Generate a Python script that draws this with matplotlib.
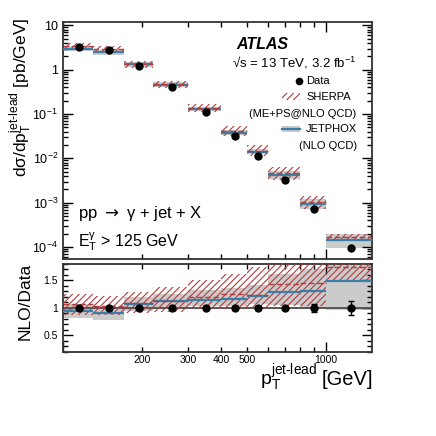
import numpy as np
import matplotlib
matplotlib.use("Agg")
import matplotlib.pyplot as plt
from matplotlib.ticker import LogLocator, FuncFormatter, MultipleLocator, FixedLocator
from matplotlib.patches import Rectangle
from matplotlib.lines import Line2D

plt.rcParams['font.family'] = ['Liberation Sans', 'DejaVu Sans']
plt.rcParams['mathtext.fontset'] = 'custom'
plt.rcParams['mathtext.rm'] = 'Liberation Sans'
plt.rcParams['mathtext.it'] = 'Liberation Sans:italic'
plt.rcParams['mathtext.bf'] = 'Liberation Sans:bold'
plt.rcParams['hatch.linewidth'] = 0.8

# ---------------- data ----------------
bin_edges = [100, 130, 170, 220, 300, 400, 500, 600, 800, 1000, 1500]
x_points = [115, 150, 195, 260, 350, 450, 550, 700, 900, 1250]
data_xsec = [3.18, 2.78, 1.23, 0.412, 0.112, 0.0327, 0.0116, 0.00321, 7.1e-4, 9.8e-5]
data_rel_err = [0.03, 0.03, 0.03, 0.03, 0.03, 0.03, 0.03, 0.04, 0.07, 0.12]

# NLO / Data ratios
jetphox_ratio = [0.94, 0.90, 1.08, 1.12, 1.15, 1.17, 1.22, 1.29, 1.31, 1.485]
jetphox_low = [0.81, 0.79, 0.95, 0.99, 1.03, 1.04, 1.07, 1.05, 1.00, 0.96]
jetphox_high = [1.07, 1.02, 1.20, 1.26, 1.32, 1.36, 1.42, 1.62, 1.70, 2.00]

sherpa_ratio = [1.07, 1.04, 1.09, 1.13, 1.20, 1.26, 1.24, 1.44, 1.45, 1.75]
sherpa_low = [0.88, 0.87, 0.91, 0.93, 0.98, 0.99, 1.00, 1.04, 1.04, 1.50]
sherpa_high = [1.25, 1.22, 1.29, 1.38, 1.50, 1.62, 1.75, 1.95, 1.95, 2.05]

RED = '#b53c3c'
BLUE = '#3a7fa8'
GREY = '#cbcbcb'
HATCH = '/////'

edges = np.array(bin_edges, dtype=float)
data = np.array(data_xsec)


def ext(v):
    v = np.asarray(v, dtype=float)
    return np.append(v, v[-1])


fig = plt.figure(figsize=(4.36, 4.36), dpi=100)
ax1 = fig.add_axes([0.1445, 0.406, 0.709, 0.544])
ax2 = fig.add_axes([0.1445, 0.1927, 0.709, 0.2018])

# ---------------- top panel ----------------
jp = data * np.array(jetphox_ratio)
jp_lo = data * np.array(jetphox_low)
jp_hi = data * np.array(jetphox_high)
sh = data * np.array(sherpa_ratio)
sh_lo = data * np.array(sherpa_low)
sh_hi = data * np.array(sherpa_high)

ax1.fill_between(edges, ext(jp_lo), ext(jp_hi), step='post', facecolor=GREY, edgecolor='none', lw=0, zorder=1)
ax1.fill_between(edges, ext(sh_lo), ext(sh_hi), step='post', facecolor='none', edgecolor=RED, lw=0, hatch=HATCH, zorder=2)
ax1.hlines(jp, edges[:-1], edges[1:], color=BLUE, lw=1.6, zorder=3)
ax1.hlines(sh, edges[:-1], edges[1:], color=RED, lw=1.0, linestyles=(0, (4, 2)), zorder=3)
ax1.errorbar(x_points, data, yerr=data * np.array(data_rel_err), fmt='o', color='black', ms=5, lw=1, zorder=5)

ax1.set_xscale('log')
ax1.set_yscale('log')
ax1.set_xlim(100, 1500)
ax1.set_ylim(5.4e-5, 12)


def yfmt(v, p):
    e = int(round(np.log10(v)))
    if e == 0:
        return '1'
    if e == 1:
        return '10'
    return r'$10^{%d}$' % e


ax1.yaxis.set_major_locator(LogLocator(base=10, numticks=12))
ax1.yaxis.set_minor_locator(LogLocator(base=10, subs=np.arange(2, 10), numticks=12))
ax1.yaxis.set_major_formatter(FuncFormatter(yfmt))
ax1.xaxis.set_major_locator(LogLocator(base=10, numticks=10))
ax1.xaxis.set_minor_locator(LogLocator(base=10, subs=np.arange(2, 10), numticks=20))
ax1.xaxis.set_major_formatter(FuncFormatter(lambda v, p: ''))
ax1.xaxis.set_minor_formatter(FuncFormatter(lambda v, p: ''))

# ---------------- ratio panel ----------------
ones = data / data
ax2.fill_between(edges, ext(jetphox_low), ext(jetphox_high), step='post', facecolor=GREY, edgecolor='none', lw=0, zorder=1)
ax2.axhline(1.0, color='#555555', lw=1.4, zorder=2)
ax2.fill_between(edges, ext(sherpa_low), ext(sherpa_high), step='post', facecolor='none', edgecolor=RED, lw=0, hatch=HATCH, zorder=3)
ax2.hlines(jetphox_ratio, edges[:-1], edges[1:], color=BLUE, lw=1.6, zorder=4)
ax2.hlines(sherpa_ratio, edges[:-1], edges[1:], color=RED, lw=1.0, linestyles=(0, (4, 2)), zorder=4)
ax2.errorbar(x_points, ones, yerr=data_rel_err, fmt='o', color='black', ms=5, lw=1, capsize=2, zorder=5)

ax2.set_xscale('log')
ax2.set_xlim(100, 1500)
ax2.set_ylim(0.2, 1.8)
ax2.yaxis.set_major_locator(FixedLocator([0.5, 1.0, 1.5]))
ax2.yaxis.set_minor_locator(MultipleLocator(0.1))
ax2.yaxis.set_major_formatter(FuncFormatter(lambda v, p: f'{v:g}'))
ax2.xaxis.set_major_locator(LogLocator(base=10, numticks=10))
ax2.xaxis.set_minor_locator(LogLocator(base=10, subs=np.arange(2, 10), numticks=20))
ax2.xaxis.set_major_formatter(FuncFormatter(lambda v, p: '1000' if abs(v - 1000) < 1 else ''))
ax2.xaxis.set_minor_formatter(FuncFormatter(lambda v, p: f'{v:g}' if int(round(v)) in (200, 300, 400, 500) else ''))

for ax in (ax1, ax2):
    ax.tick_params(which='both', direction='in', top=True, right=True, width=1.0, labelsize=9, colors='black')
    ax.tick_params(which='major', length=7)
    ax.tick_params(which='minor', length=3.5)
    for s in ax.spines.values():
        s.set_linewidth(1.3)
        s.set_color('#333333')
ax2.tick_params(axis='x', which='both', pad=2.5, labelsize=7.5)
ax2.tick_params(axis='y', labelsize=7.5)

# ---------------- labels ----------------
fig.text(0.048, 0.96, r'dσ/dp$_\mathrm{T}^\mathrm{jet\text{-}lead}$ [pb/GeV]', rotation=90,
         ha='center', va='top', fontsize=12.5)
fig.text(0.057, 0.397, 'NLO/Data', rotation=90, ha='center', va='top', fontsize=12.5)

# x label, in two pieces so the unit sits beside the superscript
xl_unit = fig.text(0.856, 0.117, '[GeV]', ha='right', va='baseline', fontsize=14.5)
renderer = fig.canvas.get_renderer()
bb = xl_unit.get_window_extent(renderer=renderer)
x_unit_left = bb.x0 / fig.bbox.width
fig.text(x_unit_left - 0.010, 0.117, r'p$_\mathrm{T}^\mathrm{jet\text{-}lead}$', ha='right', va='baseline',
         fontsize=14)

fig.text(0.541, 0.899, 'ATLAS', fontsize=11.5, weight='bold', style='italic', ha='left', va='center')
fig.text(0.818, 0.855, r'√s = 13 TeV, 3.2 fb$^{-1}$', fontsize=9.5, ha='right', va='center')

# legend
fig.add_artist(Line2D([0.686], [0.814], marker='o', color='black', ms=4.5, transform=fig.transFigure))
fig.text(0.702, 0.814, 'Data', fontsize=8, ha='left', va='center')
fig.add_artist(Rectangle((0.646, 0.770), 0.042, 0.016, transform=fig.transFigure, facecolor='none',
                         edgecolor=RED, lw=0, hatch=HATCH))
fig.text(0.702, 0.778, 'SHERPA', fontsize=8, ha='left', va='center')
fig.text(0.818, 0.738, '(ME+PS@NLO QCD)', fontsize=8, ha='right', va='center')
fig.add_artist(Rectangle((0.646, 0.697), 0.042, 0.015, transform=fig.transFigure, facecolor=GREY,
                         edgecolor='none'))
fig.add_artist(Line2D([0.646, 0.688], [0.704, 0.704], color=BLUE, lw=1.6, transform=fig.transFigure))
fig.text(0.702, 0.704, 'JETPHOX', fontsize=8, ha='left', va='center')
fig.text(0.818, 0.664, '(NLO QCD)', fontsize=8, ha='right', va='center')

fig.text(0.179, 0.511, r'pp $\rightarrow$ γ + jet + X', fontsize=12, ha='left', va='center',
         math_fontfamily='dejavusans')
fig.text(0.179, 0.446, r'E$_\mathrm{T}^\mathrm{γ}$ > 125 GeV', fontsize=11.5, ha='left', va='center')

fig.savefig('out.png', dpi=100)
